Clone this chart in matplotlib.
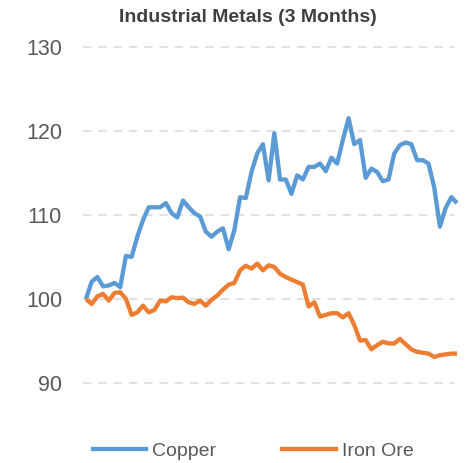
import matplotlib
matplotlib.use("Agg")
import matplotlib.pyplot as plt
from matplotlib import font_manager as fm
from matplotlib.lines import Line2D

names = {f.name for f in fm.fontManager.ttflist}
narrow = "Liberation Sans Narrow" if "Liberation Sans Narrow" in names else "Liberation Sans"
base = "Liberation Sans"

title = "Industrial Metals (3 Months)"
series_names = ["Copper", "Iron Ore"]
y_ticks = [90, 100, 110, 120, 130]

copper = [100, 102.05, 102.6, 101.5, 101.6, 101.9, 101.4, 105.1, 105.0, 107.4,
          109.4, 110.9, 110.9, 110.9, 111.4, 110.2, 109.7, 111.7, 110.9, 110.2,
          109.8, 108.0, 107.4, 108.0, 108.4, 105.9, 108.2, 112.1, 112.0, 115.1,
          117.3, 118.4, 114.1, 119.7, 114.2, 114.2, 112.5, 114.7, 114.2, 115.7,
          115.7, 116.1, 115.2, 116.8, 116.1, 118.9, 121.5, 118.4, 118.9, 114.4,
          115.5, 115.1, 114.0, 114.2, 117.3, 118.3, 118.6, 118.4, 116.5, 116.5,
          116.1, 113.3, 108.6, 110.8, 112.1, 111.4]

iron_ore = [100, 99.4, 100.3, 100.6, 99.8, 100.7, 100.8, 100.0, 98.1, 98.4,
            99.2, 98.4, 98.7, 99.8, 99.7, 100.2, 100.1, 100.15, 99.6, 99.4,
            99.8, 99.2, 99.9, 100.4, 101.1, 101.7, 101.9, 103.4, 103.95, 103.6,
            104.2, 103.4, 104.0, 103.8, 103.0, 102.6, 102.3, 102.0, 101.7, 99.1,
            99.6, 97.9, 98.1, 98.3, 98.3, 97.8, 98.3, 96.9, 95.05, 95.1,
            94.0, 94.5, 94.9, 94.7, 94.7, 95.25, 94.6, 94.0, 93.7, 93.6,
            93.5, 93.1, 93.3, 93.4, 93.5, 93.5]

colors = ["#5B9BD5", "#ED7D31"]

fig = plt.figure(figsize=(4.66, 4.63), dpi=100)
ax = fig.add_axes([0.178, 0.1365, 0.796, 0.7808])

x = list(range(len(copper)))
for vals, c, n in zip([copper, iron_ore], colors, series_names):
    ax.plot(x, vals, color=c, lw=3.1, solid_joinstyle="round",
            solid_capstyle="butt", clip_on=False, label=n)

ax.set_xlim(-0.525, 64.45)
ax.set_ylim(88, 131)
ax.set_yticks(y_ticks)
ax.set_xticks([])
for yv in y_ticks:
    ax.axhline(yv, color="#D9D9D9", lw=1.1, dashes=(5.5, 4.5), zorder=0)
for s in ax.spines.values():
    s.set_visible(False)
ax.tick_params(axis="y", length=0, pad=15, labelsize=15.5, labelcolor="#595959")
for lab in ax.get_yticklabels():
    lab.set_fontfamily(base)

fig.text(0.532, 0.963, title, ha="center", va="center", fontsize=14,
         fontweight="bold", color="#404040", family=narrow)

handles = [Line2D([], [], color=c, lw=3.1) for c in colors]
leg = fig.legend(handles, series_names, loc="center", bbox_to_anchor=(0.543, 0.025),
                 ncol=2, frameon=False, handlelength=2.75, handletextpad=0.3,
                 columnspacing=3.4, borderpad=0,
                 prop={"family": base, "size": 14})
for t in leg.get_texts():
    t.set_color("#595959")

fig.savefig("out.png", dpi=100)
